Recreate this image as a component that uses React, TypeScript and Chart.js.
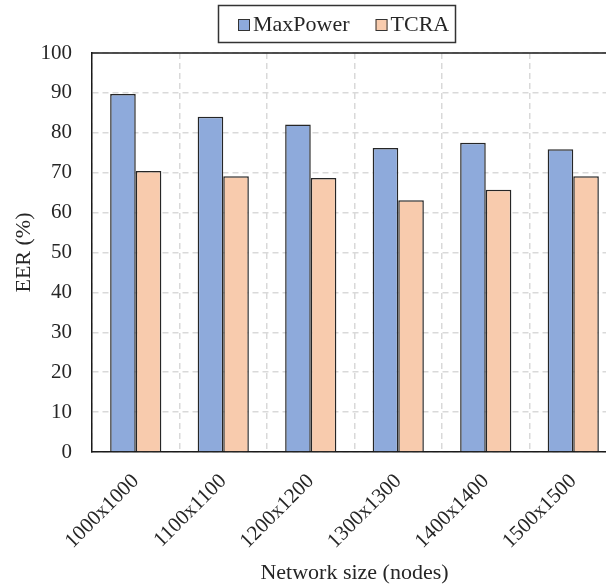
import React, { useEffect, useRef } from "react";
import { Chart, registerables } from "chart.js";

Chart.register(...registerables);

const categories = ["1000x1000", "1100x1100", "1200x1200", "1300x1300", "1400x1400", "1500x1500"];
const maxPowerValues = [89.7, 84.0, 82.1, 76.2, 77.5, 75.9];
const tcraValues = [70.4, 69.1, 68.7, 63.1, 65.7, 69.1];
const seriesNames = ["MaxPower", "TCRA"];
const yTickMin = 0;
const yTickMax = 100;
const yTickStep = 10;

const FONT = "'Liberation Serif', 'Times New Roman', serif";
const TEXT = "#262626";
const BLUE = "#8eaadb";
const PEACH = "#f8cbad";
const EDGE = "#262626";

const boxLegendPlugin = {
  id: "boxLegend",
  afterDraw(chart: any) {
    const ctx = chart.ctx;
    const ds = chart.data.datasets;
    ctx.save();
    ctx.font = `22px ${FONT}`;
    const sq = 12;
    const gapSq = 3;
    const gapItem = 26;
    const widths = ds.map((d: any) => ctx.measureText(d.label).width);
    const boxL = 218.5, boxT = 5.5, boxW = 237, boxH = 37;
    let x = 238;
    const midY = boxT + boxH / 2 + 1;
    ctx.lineWidth = 1.5;
    ctx.strokeStyle = "#333";
    ctx.strokeRect(boxL, boxT, boxW, boxH);
    ds.forEach((d: any, i: number) => {
      ctx.fillStyle = d.backgroundColor;
      ctx.fillRect(x, midY - sq / 2, sq, sq);
      ctx.lineWidth = 1;
      ctx.strokeStyle = "#333";
      ctx.strokeRect(x + 0.5, midY - sq / 2 + 0.5, sq - 1, sq - 1);
      ctx.fillStyle = TEXT;
      ctx.textBaseline = "middle";
      ctx.textAlign = "left";
      ctx.fillText(d.label, x + sq + gapSq, midY);
      x += sq + gapSq + widths[i] + gapItem;
    });
    // top border of plot area
    const a = chart.chartArea;
    ctx.beginPath();
    ctx.lineWidth = 1.5;
    ctx.strokeStyle = "#1a1a1a";
    ctx.moveTo(a.left, a.top);
    ctx.lineTo(a.right, a.top);
    ctx.stroke();
    ctx.restore();
  },
};

export default function App() {
  const ref = useRef<HTMLCanvasElement | null>(null);
  useEffect(() => {
    if (!ref.current) return;
    const chart = new Chart(ref.current, {
      type: "bar",
      data: {
        labels: categories,
        datasets: [
          {
            label: seriesNames[0],
            data: maxPowerValues,
            backgroundColor: BLUE,
            borderColor: EDGE,
            borderWidth: 1.5,
            barPercentage: 1,
            categoryPercentage: 0.585,
          },
          {
            label: seriesNames[1],
            data: tcraValues,
            backgroundColor: PEACH,
            borderColor: EDGE,
            borderWidth: 1.5,
            barPercentage: 1,
            categoryPercentage: 0.585,
          },
        ],
      },
      options: {
        responsive: false,
        animation: false,
        layout: { padding: { top: 53, right: 5, left: 0, bottom: 0 } },
        plugins: {
          legend: { display: false },
          tooltip: { enabled: false },
        },
        scales: {
          x: {
            grid: { display: true, offset: true, color: "#d9d9d9", lineWidth: 1.5, drawTicks: false },
            border: { display: true, color: "#1a1a1a", width: 1.5, dash: [6, 4] },
            ticks: {
              color: TEXT,
              font: { family: FONT, size: 21 },
              maxRotation: 45,
              minRotation: 45,
              padding: 17,
            },
            title: {
              display: true,
              text: "Network size (nodes)",
              color: TEXT,
              font: { family: FONT, size: 22 },
              padding: { top: 1, bottom: 0 },
            },
            afterFit: (s: any) => {
              s.height = 134;
            },
          },
          y: {
            min: yTickMin,
            max: yTickMax,
            grid: { display: true, color: "#d9d9d9", lineWidth: 1.5, drawTicks: false },
            border: { display: true, color: "#1a1a1a", width: 1.5, dash: [6, 4] },
            ticks: {
              stepSize: yTickStep,
              color: TEXT,
              font: { family: FONT, size: 21 },
              padding: 20,
            },
            title: {
              display: true,
              text: "EER (%)",
              color: TEXT,
              font: { family: FONT, size: 22 },
              padding: { top: 11, bottom: 0 },
            },
            afterFit: (s: any) => {
              s.width = 92;
            },
          },
        },
      },
      plugins: [boxLegendPlugin],
    });
    return () => chart.destroy();
  }, []);
  return (
    <div style={{ position: "fixed", left: 0, top: 0, width: 606, height: 586, overflow: "hidden", background: "#fff" }}>
      <canvas ref={ref} width={622} height={586} style={{ display: "block", width: 622, height: 586 }} />
    </div>
  );
}
